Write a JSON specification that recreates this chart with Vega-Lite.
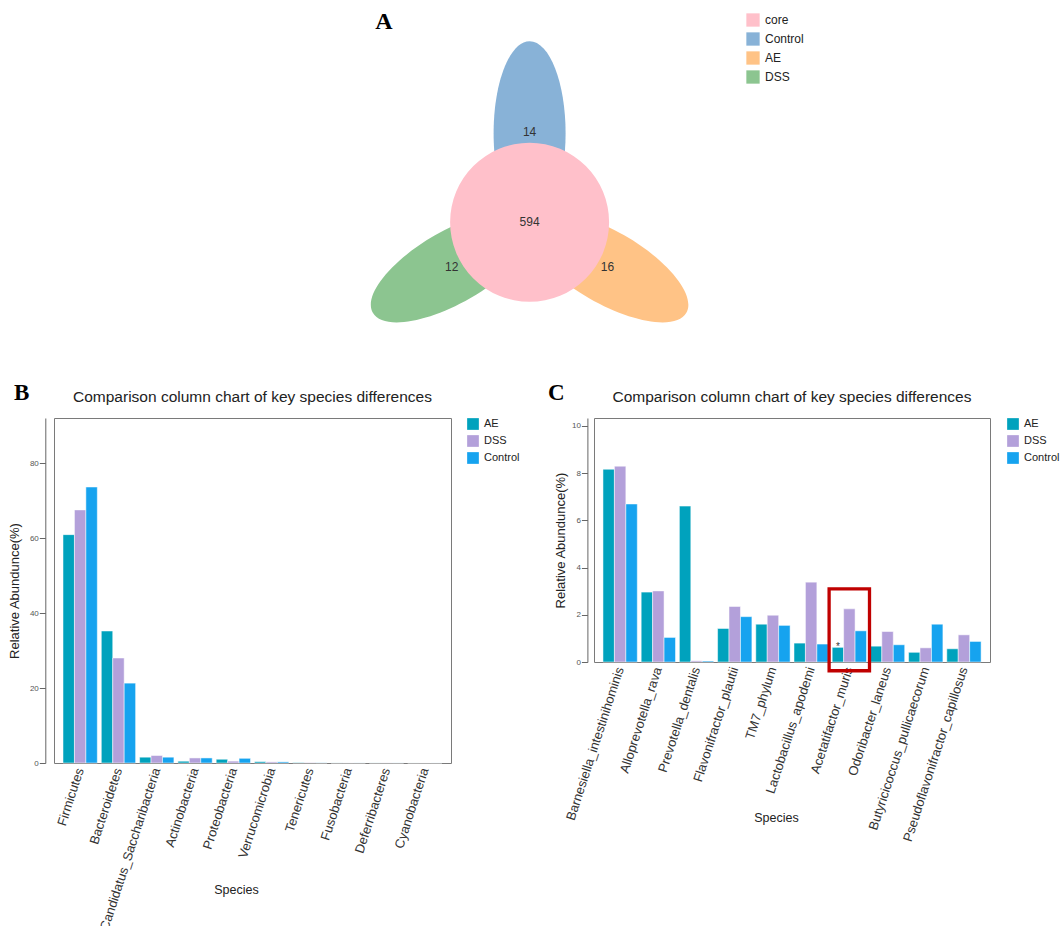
{
  "$schema": "https://vega.github.io/schema/vega-lite/v6.json",
  "padding": {"left": 7, "top": 10, "right": 0, "bottom": 0},
  "background": "white",
  "config": {
    "font": "Liberation Sans",
    "view": {"stroke": "#7a7a7a", "strokeWidth": 1},
    "axis": {"grid": false, "domainColor": "#666666", "tickColor": "#666666", "labelColor": "#333333", "titleColor": "#222222", "titleFontWeight": "normal"},
    "title": {"fontWeight": "normal", "color": "#222222"}
  },
  "datasets": {
    "venn": [
      {"set": "core", "count": 594},
      {"set": "Control", "count": 14},
      {"set": "AE", "count": 16},
      {"set": "DSS", "count": 12}
    ],
    "phylum": [
      {"phylum": "Firmicutes", "group": "AE", "value": 60.9},
      {"phylum": "Firmicutes", "group": "DSS", "value": 67.5},
      {"phylum": "Firmicutes", "group": "Control", "value": 73.6},
      {"phylum": "Bacteroidetes", "group": "AE", "value": 35.2},
      {"phylum": "Bacteroidetes", "group": "DSS", "value": 28.0},
      {"phylum": "Bacteroidetes", "group": "Control", "value": 21.3},
      {"phylum": "Candidatus_Saccharibacteria", "group": "AE", "value": 1.55},
      {"phylum": "Candidatus_Saccharibacteria", "group": "DSS", "value": 2.0},
      {"phylum": "Candidatus_Saccharibacteria", "group": "Control", "value": 1.55},
      {"phylum": "Actinobacteria", "group": "AE", "value": 0.5},
      {"phylum": "Actinobacteria", "group": "DSS", "value": 1.35},
      {"phylum": "Actinobacteria", "group": "Control", "value": 1.35},
      {"phylum": "Proteobacteria", "group": "AE", "value": 1.0},
      {"phylum": "Proteobacteria", "group": "DSS", "value": 0.5},
      {"phylum": "Proteobacteria", "group": "Control", "value": 1.25},
      {"phylum": "Verrucomicrobia", "group": "AE", "value": 0.36},
      {"phylum": "Verrucomicrobia", "group": "DSS", "value": 0.3},
      {"phylum": "Verrucomicrobia", "group": "Control", "value": 0.3},
      {"phylum": "Tenericutes", "group": "AE", "value": 0.1},
      {"phylum": "Tenericutes", "group": "DSS", "value": 0.1},
      {"phylum": "Tenericutes", "group": "Control", "value": 0.05},
      {"phylum": "Fusobacteria", "group": "AE", "value": 0.02},
      {"phylum": "Fusobacteria", "group": "DSS", "value": 0.02},
      {"phylum": "Fusobacteria", "group": "Control", "value": 0.02},
      {"phylum": "Deferribacteres", "group": "AE", "value": 0.02},
      {"phylum": "Deferribacteres", "group": "DSS", "value": 0.03},
      {"phylum": "Deferribacteres", "group": "Control", "value": 0.02},
      {"phylum": "Cyanobacteria", "group": "AE", "value": 0.01},
      {"phylum": "Cyanobacteria", "group": "DSS", "value": 0.01},
      {"phylum": "Cyanobacteria", "group": "Control", "value": 0.01}
    ],
    "species": [
      {"species": "Barnesiella_intestinihominis", "group": "AE", "value": 8.16, "sig": ""},
      {"species": "Barnesiella_intestinihominis", "group": "DSS", "value": 8.29, "sig": ""},
      {"species": "Barnesiella_intestinihominis", "group": "Control", "value": 6.69, "sig": ""},
      {"species": "Alloprevotella_rava", "group": "AE", "value": 2.96, "sig": ""},
      {"species": "Alloprevotella_rava", "group": "DSS", "value": 3.01, "sig": ""},
      {"species": "Alloprevotella_rava", "group": "Control", "value": 1.04, "sig": ""},
      {"species": "Prevotella_dentalis", "group": "AE", "value": 6.6, "sig": ""},
      {"species": "Prevotella_dentalis", "group": "DSS", "value": 0.05, "sig": ""},
      {"species": "Prevotella_dentalis", "group": "Control", "value": 0.04, "sig": ""},
      {"species": "Flavonifractor_plautii", "group": "AE", "value": 1.42, "sig": ""},
      {"species": "Flavonifractor_plautii", "group": "DSS", "value": 2.35, "sig": ""},
      {"species": "Flavonifractor_plautii", "group": "Control", "value": 1.92, "sig": ""},
      {"species": "TM7_phylum", "group": "AE", "value": 1.6, "sig": ""},
      {"species": "TM7_phylum", "group": "DSS", "value": 1.98, "sig": ""},
      {"species": "TM7_phylum", "group": "Control", "value": 1.55, "sig": ""},
      {"species": "Lactobacillus_apodemi", "group": "AE", "value": 0.8, "sig": ""},
      {"species": "Lactobacillus_apodemi", "group": "DSS", "value": 3.38, "sig": ""},
      {"species": "Lactobacillus_apodemi", "group": "Control", "value": 0.76, "sig": ""},
      {"species": "Acetatifactor_muris", "group": "AE", "value": 0.62, "sig": "*"},
      {"species": "Acetatifactor_muris", "group": "DSS", "value": 2.25, "sig": ""},
      {"species": "Acetatifactor_muris", "group": "Control", "value": 1.32, "sig": ""},
      {"species": "Odoribacter_laneus", "group": "AE", "value": 0.67, "sig": ""},
      {"species": "Odoribacter_laneus", "group": "DSS", "value": 1.29, "sig": ""},
      {"species": "Odoribacter_laneus", "group": "Control", "value": 0.73, "sig": ""},
      {"species": "Butyricicoccus_pullicaecorum", "group": "AE", "value": 0.41, "sig": ""},
      {"species": "Butyricicoccus_pullicaecorum", "group": "DSS", "value": 0.6, "sig": ""},
      {"species": "Butyricicoccus_pullicaecorum", "group": "Control", "value": 1.6, "sig": ""},
      {"species": "Pseudoflavonifractor_capillosus", "group": "AE", "value": 0.56, "sig": ""},
      {"species": "Pseudoflavonifractor_capillosus", "group": "DSS", "value": 1.15, "sig": ""},
      {"species": "Pseudoflavonifractor_capillosus", "group": "Control", "value": 0.87, "sig": ""}
    ]
  },
  "spacing": 59,
  "resolve": {"scale": {"color": "independent"}, "legend": {"color": "independent"}},
  "vconcat": [
    {
      "width": 660,
      "height": 305,
      "view": {"stroke": null},
      "title": {"text": "A", "anchor": "middle", "frame": "group", "font": "Liberation Serif", "fontSize": 24, "fontWeight": "bold", "color": "#000000", "offset": 0, "dy": 21},
      "data": {"name": "venn"},
      "layer": [
        {
          "transform": [{"filter": "datum.set !== 'core'"}],
          "mark": {"type": "point", "shape": "M 0.36 -0.89 C 0.36 -0.382 0.199 0.03 0 0.03 C -0.199 0.03 -0.36 -0.382 -0.36 -0.89 C -0.36 -1.398 -0.199 -1.81 0 -1.81 C 0.199 -1.81 0.36 -1.398 0.36 -0.89 Z", "size": 40000, "filled": true, "opacity": 1, "strokeWidth": 0},
          "encoding": {
            "x": {"datum": 0, "type": "quantitative", "scale": {"domain": [-4.756, 1.844], "nice": false, "zero": false}, "axis": null},
            "y": {"datum": 0, "type": "quantitative", "scale": {"domain": [-0.957, 2.093], "nice": false, "zero": false}, "axis": null},
            "angle": {"field": "set", "type": "nominal", "scale": {"type": "ordinal", "domain": ["Control", "AE", "DSS"], "range": [0, 120, 240]}, "legend": null},
            "color": {"field": "set", "type": "nominal", "scale": {"domain": ["core", "Control", "AE", "DSS"], "range": ["#FFC0CA", "#88B2D7", "#FFC386", "#8CC590"]}, "legend": {"title": null, "offset": 32, "symbolType": "square", "symbolSize": 177, "labelFontSize": 12, "labelOffset": 5, "rowPadding": 5, "padding": 0, "labelColor": "#222222", "symbolStrokeWidth": 0, "symbolOpacity": 1}}
          }
        },
        {
          "transform": [{"filter": "datum.set === 'core'"}],
          "mark": {"type": "point", "shape": "circle", "size": 25281, "filled": true, "opacity": 1, "strokeWidth": 0},
          "encoding": {
            "x": {"datum": 0, "type": "quantitative"},
            "y": {"datum": 0, "type": "quantitative"},
            "color": {"field": "set", "type": "nominal"}
          }
        },
        {
          "transform": [{"filter": "datum.set !== 'core'"}],
          "mark": {"type": "text", "fontSize": 12, "color": "#333333", "radius": 90, "align": "center", "baseline": "middle"},
          "encoding": {
            "x": {"datum": 0, "type": "quantitative"},
            "y": {"datum": 0, "type": "quantitative"},
            "theta": {"field": "set", "type": "nominal", "scale": {"type": "point", "domain": ["Control", "AE", "DSS"], "range": [0, 4.189], "padding": 0}},
            "text": {"field": "count", "type": "quantitative"}
          }
        },
        {
          "transform": [{"filter": "datum.set === 'core'"}],
          "mark": {"type": "text", "fontSize": 12, "color": "#333333", "align": "center", "baseline": "middle"},
          "encoding": {
            "x": {"datum": 0, "type": "quantitative"},
            "y": {"datum": 0, "type": "quantitative"},
            "text": {"field": "count", "type": "quantitative"}
          }
        }
      ]
    },
    {
      "spacing": 28,
      "resolve": {"scale": {"color": "independent"}, "legend": {"color": "independent"}},
      "hconcat": [
        {
          "title": {"text": "B", "anchor": "start", "frame": "bounds", "font": "Liberation Serif", "fontSize": 23, "fontWeight": "bold", "color": "#000000", "offset": 0, "dx": 6, "dy": 16},
          "vconcat": [
            {
              "width": 397,
              "height": 345,
              "data": {"name": "phylum"},
              "title": {"text": "Comparison column chart of key species differences", "fontSize": 15.5, "offset": 13, "anchor": "middle", "frame": "group"},
              "mark": {"type": "bar", "stroke": "white", "strokeWidth": 0.5},
              "encoding": {
                "x": {"field": "phylum", "type": "nominal", "scale": {"domain": ["Firmicutes", "Bacteroidetes", "Candidatus_Saccharibacteria", "Actinobacteria", "Proteobacteria", "Verrucomicrobia", "Tenericutes", "Fusobacteria", "Deferribacteres", "Cyanobacteria"], "paddingInner": 0.104, "paddingOuter": 0.235}, "axis": {"labelAngle": -72, "labelFontSize": 13, "labelPadding": 5, "ticks": false, "domain": false, "labelLimit": 0, "labelOverlap": false, "title": "Species", "titleFontSize": 12.5, "titleX": 182, "titleY": 126, "titleBaseline": "middle", "titleAlign": "center"}},
                "xOffset": {"field": "group", "type": "nominal", "scale": {"domain": ["AE", "DSS", "Control"], "paddingInner": 0, "paddingOuter": 0}},
                "y": {"field": "value", "type": "quantitative", "scale": {"domain": [0, 92], "nice": false}, "axis": {"offset": 8.7, "values": [0, 20, 40, 60, 80], "tickSize": 6, "labelFontSize": 8, "labelPadding": 1, "labelColor": "#555555", "title": "Relative Abundunce(%)", "titleFontSize": 13, "titlePadding": 8}},
                "color": {"field": "group", "type": "nominal", "scale": {"domain": ["AE", "DSS", "Control"], "range": ["#00A2BD", "#B3A0DA", "#16A3EF"]}, "legend": {"title": null, "offset": 15, "symbolType": "square", "symbolSize": 137, "labelFontSize": 11, "labelOffset": 5, "rowPadding": 5, "padding": 0, "labelColor": "#222222", "symbolStrokeWidth": 0}}
              }
            }
          ]
        },
        {
          "title": {"text": "C", "anchor": "start", "frame": "bounds", "font": "Liberation Serif", "fontSize": 23, "fontWeight": "bold", "color": "#000000", "offset": 0, "dx": -6, "dy": 16},
          "vconcat": [
            {
              "width": 396,
              "height": 244,
              "data": {"name": "species"},
              "title": {"text": "Comparison column chart of key species differences", "fontSize": 15.5, "offset": 13, "anchor": "middle", "frame": "group"},
              "layer": [
                {
                  "mark": {"type": "bar", "stroke": "white", "strokeWidth": 0.5},
                  "encoding": {
                    "x": {"field": "species", "type": "nominal", "scale": {"domain": ["Barnesiella_intestinihominis", "Alloprevotella_rava", "Prevotella_dentalis", "Flavonifractor_plautii", "TM7_phylum", "Lactobacillus_apodemi", "Acetatifactor_muris", "Odoribacter_laneus", "Butyricicoccus_pullicaecorum", "Pseudoflavonifractor_capillosus"], "paddingInner": 0.104, "paddingOuter": 0.235}, "axis": {"labelAngle": -72, "labelFontSize": 13, "labelPadding": 5, "ticks": false, "domain": false, "labelLimit": 0, "labelOverlap": false, "title": "Species", "titleFontSize": 12.5, "titleX": 182, "titleY": 155, "titleBaseline": "middle", "titleAlign": "center"}},
                    "xOffset": {"field": "group", "type": "nominal", "scale": {"domain": ["AE", "DSS", "Control"], "paddingInner": 0, "paddingOuter": 0}},
                    "y": {"field": "value", "type": "quantitative", "scale": {"domain": [0, 10.33], "nice": false}, "axis": {"offset": 6.6, "values": [0, 2, 4, 6, 8, 10], "tickSize": 6, "labelFontSize": 8, "labelPadding": 1, "labelColor": "#555555", "title": "Relative Abundunce(%)", "titleFontSize": 13, "titlePadding": 4}},
                    "color": {"field": "group", "type": "nominal", "scale": {"domain": ["AE", "DSS", "Control"], "range": ["#00A2BD", "#B3A0DA", "#16A3EF"]}, "legend": {"title": null, "offset": 16, "symbolType": "square", "symbolSize": 137, "labelFontSize": 11, "labelOffset": 5, "rowPadding": 5, "padding": 0, "labelColor": "#222222", "symbolStrokeWidth": 0}}
                  }
                },
                {
                  "transform": [{"filter": "datum.sig === '*'"}],
                  "mark": {"type": "text", "fontSize": 10, "color": "#333333", "baseline": "alphabetic", "dy": 3},
                  "encoding": {
                    "x": {"field": "species", "type": "nominal"},
                    "xOffset": {"field": "group", "type": "nominal"},
                    "y": {"field": "value", "type": "quantitative"},
                    "text": {"field": "sig"}
                  }
                },
                {
                  "transform": [{"filter": "datum.sig === '*'"}],
                  "mark": {"type": "bar", "fillOpacity": 0, "stroke": "#C00000", "strokeWidth": 3.3, "width": {"band": 1.18}},
                  "encoding": {
                    "x": {"field": "species", "type": "nominal"},
                    "y": {"datum": 3.1},
                    "y2": {"datum": -0.37}
                  }
                }
              ]
            }
          ]
        }
      ]
    }
  ]
}
